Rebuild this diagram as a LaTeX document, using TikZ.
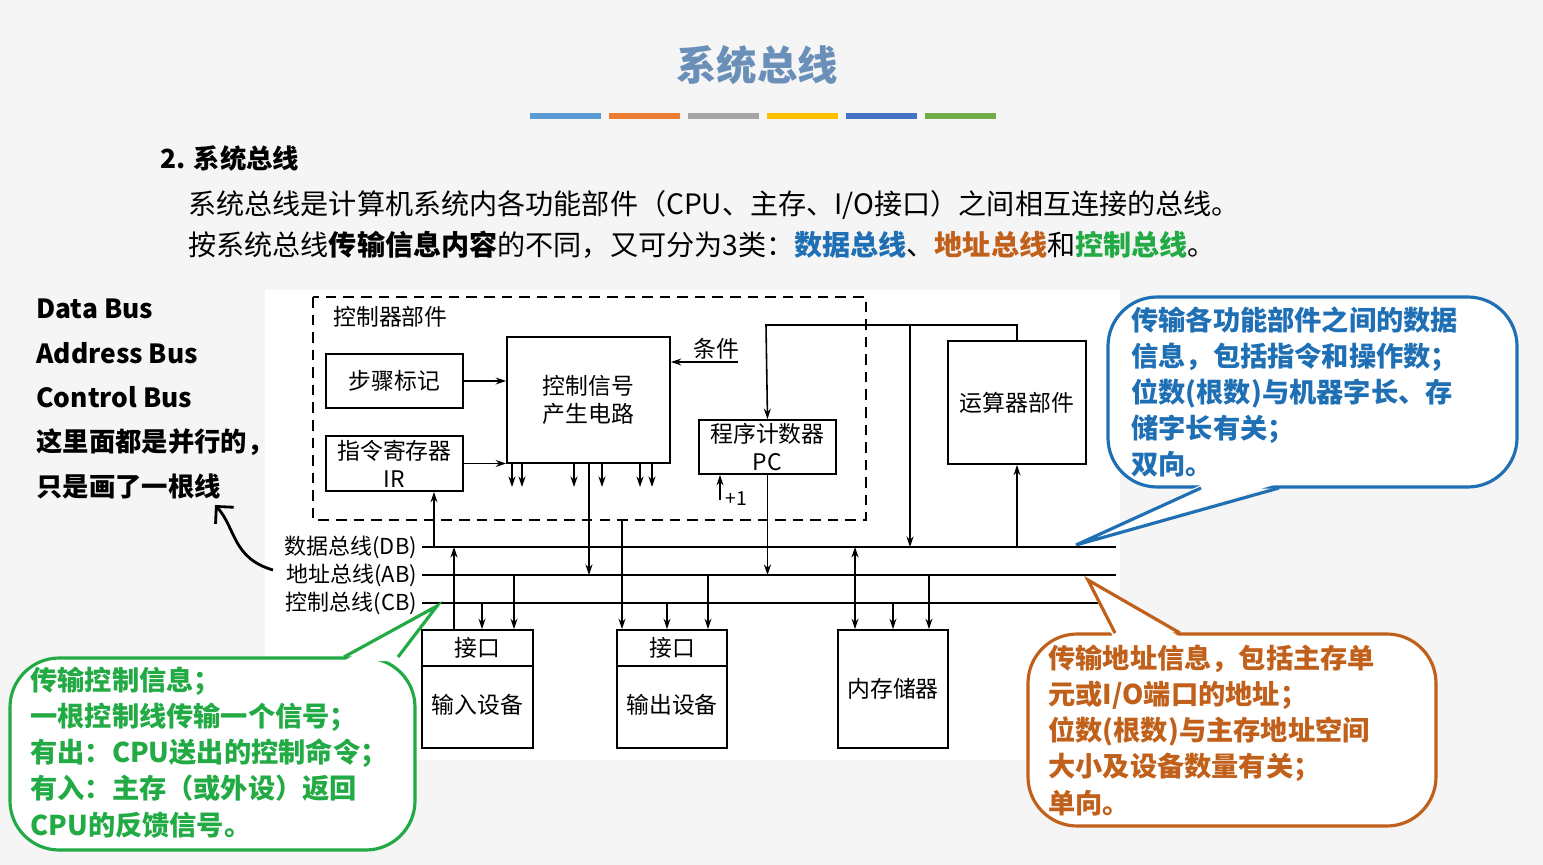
\documentclass[tikz,border=0pt]{standalone}
\usepackage{fontspec}
\setmainfont{Noto Sans CJK SC}
\usetikzlibrary{arrows.meta}
\definecolor{tblue}{HTML}{1F6FB5}
\definecolor{torange}{HTML}{C0601A}
\definecolor{tgreen}{HTML}{22AA44}
\definecolor{ttitle}{HTML}{6A8FB8}
\definecolor{bar1}{HTML}{5B9BD5}
\definecolor{bar2}{HTML}{ED7D31}
\definecolor{bar3}{HTML}{A5A5A5}
\definecolor{bar4}{HTML}{FFC000}
\definecolor{bar5}{HTML}{4472C4}
\definecolor{bar6}{HTML}{70AD47}
\tikzset{
  unit/.style={draw, line width=1pt, inner sep=0pt, font=\fontsize{13}{15}\selectfont, align=center},
  arr/.style={-{Stealth[length=6pt,width=4pt]}, line width=0.9pt},
  bus/.style={line width=1.2pt},
  buslabel/.style={anchor=east, inner sep=1pt, font=\fontsize{12.5}{14}\selectfont},
  note/.style={anchor=north west, align=left, inner sep=0pt, font=\fontsize{15.5}{20.5}\selectfont\bfseries},
  lefttext/.style={anchor=west, inner sep=0pt, font=\fontsize{15}{16}\selectfont\bfseries},
  callout/.style={line width=1.8pt, fill=white}
}
\begin{document}
\begin{tikzpicture}[x=0.02cm, y=-0.02cm]
\fill[black!4] (0,0) rectangle (1543,865);
\useasboundingbox (0,0) rectangle (1543,865);
\fill[white] (265,290) rectangle (1120,760);

% title
\node[text=ttitle, font=\fontsize{23}{26}\selectfont\bfseries] (title) at (757,65) {系统总线};
\foreach \xa/\col in {530/bar1, 609/bar2, 688/bar3, 767/bar4, 846/bar5, 925/bar6}
  \fill[\col] (\xa,113) rectangle ++(71,6);

% heading text
\node[anchor=west, inner sep=0pt, font=\fontsize{15}{16}\selectfont\bfseries] (head) at (160,158) {2. 系统总线};
\node[anchor=west, inner sep=0pt, font=\fontsize{16}{18}\selectfont] (line1) at (188,205)
  {系统总线是计算机系统内各功能部件（CPU、主存、I/O接口）之间相互连接的总线。};
\node[anchor=west, inner sep=0pt, font=\fontsize{16}{18}\selectfont] (line2) at (188,245)
  {按系统总线\textbf{传输信息内容}的不同，又可分为3类：\textcolor{tblue}{\textbf{数据总线}}、\textcolor{torange}{\textbf{地址总线}}和\textcolor{tgreen}{\textbf{控制总线}}。};

% left remarks
\node[lefttext] (dbus) at (36,309) {Data Bus};
\node[lefttext] (abus) at (36,353) {Address Bus};
\node[lefttext] (cbus) at (36,397) {Control Bus};
\node[lefttext] (par1) at (36,442) {这里面都是并行的，};
\node[lefttext] (par2) at (36,486) {只是画了一根线};

% controller
\draw[line width=1pt, dash pattern=on 6pt off 4pt] (313,297) rectangle (866,520);
\node[anchor=west, inner sep=0pt, font=\fontsize{13}{15}\selectfont] (ctrl) at (333,317) {控制器部件};
\node[unit, minimum width=2.74cm, minimum height=1.08cm] (step) at (394.5,381) {步骤标记};
\node[unit, minimum width=2.74cm, minimum height=1.1cm] (ir) at (394.5,463.5) {指令寄存器\\[1pt]IR};
\node[unit, minimum width=3.26cm, minimum height=2.52cm] (csg) at (588.5,400) {控制信号\\[1pt]产生电路};
\node[unit, minimum width=2.74cm, minimum height=1.08cm] (pc) at (767.5,447) {程序计数器\\[1pt]PC};
\node[unit, minimum width=2.76cm, minimum height=2.46cm] (alu) at (1017,402.5) {运算器部件};
\draw[arr] (step.east) -- (step.east -| csg.west);
\draw[arr] (ir.east) -- (ir.east -| csg.west);
\coordinate (cond) at (738,362);
\draw[arr] (cond) -- (cond -| csg.east);
\node[anchor=south, inner sep=1pt, font=\fontsize{13}{15}\selectfont] (condl) at (716,361) {条件};
\foreach \xs in {512,522,574,602,640,652}
  \draw[arr] (\xs,0 |- csg.south) -- (\xs,487);
\coordinate (inc) at (720,500);
\draw[arr] (inc) -- (inc |- pc.south);
\node[anchor=west, inner sep=0pt, font=\fontsize{11}{13}\selectfont] (incl) at (725,499) {+1};

% buses
\coordinate (db) at (0,547);
\coordinate (ab) at (0,575);
\coordinate (cb) at (0,603);
\foreach \b in {db,ab,cb}
  \draw[bus] (422,0 |- \b) -- (1116,0 |- \b);
\node[buslabel] (dbl) at (419,547) {数据总线(DB)};
\node[buslabel] (abl) at (419,575) {地址总线(AB)};
\node[buslabel] (cbl) at (419,603) {控制总线(CB)};

% devices
\node[unit, minimum width=2.22cm, minimum height=2.36cm] (in) at (477.5,689) {};
\node[unit, minimum width=2.2cm, minimum height=2.36cm] (out) at (672,689) {};
\node[unit, minimum width=2.2cm, minimum height=2.36cm] (mem) at (893,689) {内存储器};
\foreach \d/\t in {in/输入设备, out/输出设备}{
  \draw[line width=1pt] (\d.west |- 0,666) -- (\d.east |- 0,666);
  \node[font=\fontsize{13}{15}\selectfont] at (\d.center |- 0,648) {接口};
  \node[font=\fontsize{13}{15}\selectfont] at (\d.center |- 0,705) {\t};
}

% connectors
\draw[arr] (434,0 |- db) -- (434,0 |- ir.south);
\draw[arr] (589,0 |- csg.south) -- (589,0 |- ab);
\draw[arr] (622,520) -- (622,0 |- out.north);
\draw[arr] (pc.south) -- (pc.south |- ab);
\coordinate (top) at (766,325);
\draw[arr] (alu.north) -- (alu.north |- top) -- (top) -- (pc.north);
\draw[arr] (910,325) -- (910,0 |- db);
\draw[arr] (alu.south |- db) -- (alu.south);
\draw[arr] (454,0 |- in.north) -- (454,0 |- db);
\draw[arr] (482,0 |- cb) -- (482,0 |- in.north);
\draw[arr] (514,0 |- ab) -- (514,0 |- in.north);
\draw[arr] (667,0 |- cb) -- (667,0 |- out.north);
\draw[arr] (708,0 |- ab) -- (708,0 |- out.north);
\draw[arr, {Stealth[length=6pt,width=4pt]}-{Stealth[length=6pt,width=4pt]}] (855,0 |- db) -- (855,0 |- mem.north);
\draw[arr] (893,0 |- cb) -- (893,0 |- mem.north);
\draw[arr] (929,0 |- ab) -- (929,0 |- mem.north);

% curved hint arrow
\draw[-{Straight Barb[length=7pt]}, line width=1.6pt] (273,570) .. controls (232,558) and (236,528) .. (215,505);

% callouts
\draw[callout, draw=tblue, rounded corners=28] (1108,297) rectangle (1517,487);
\fill[white] (1203,484) -- (1076,545) -- (1277,484) -- cycle;
\draw[line width=1.8pt, tblue] (1201,488) -- (1076,545) -- (1279,488);
\node[note, text=tblue] (bluenote) at (1131,306) {传输各功能部件之间的数据\\信息，包括指令和操作数；\\位数(根数)与机器字长、存\\储字长有关；\\双向。};

\draw[callout, draw=torange, rounded corners=28] (1028,634) rectangle (1436,826);
\fill[white] (1113,637) -- (1088,580) -- (1180,637) -- cycle;
\draw[line width=1.8pt, torange] (1115,633) -- (1088,580) -- (1180,633);
\node[note, text=torange] (orangenote) at (1048,645) {传输地址信息，包括主存单\\元或I/O端口的地址；\\位数(根数)与主存地址空间\\大小及设备数量有关；\\单向。};

\draw[callout, draw=tgreen, rounded corners=28] (10,658) rectangle (415,850);
\fill[white] (344,661) -- (437,606) -- (398,661) -- cycle;
\draw[line width=1.8pt, tgreen] (344,657) -- (437,606) -- (398,657);
\node[note, text=tgreen] (greennote) at (30,667) {传输控制信息；\\一根控制线传输一个信号；\\有出：CPU送出的控制命令；\\有入：主存（或外设）返回\\CPU的反馈信号。};
\end{tikzpicture}
\end{document}
